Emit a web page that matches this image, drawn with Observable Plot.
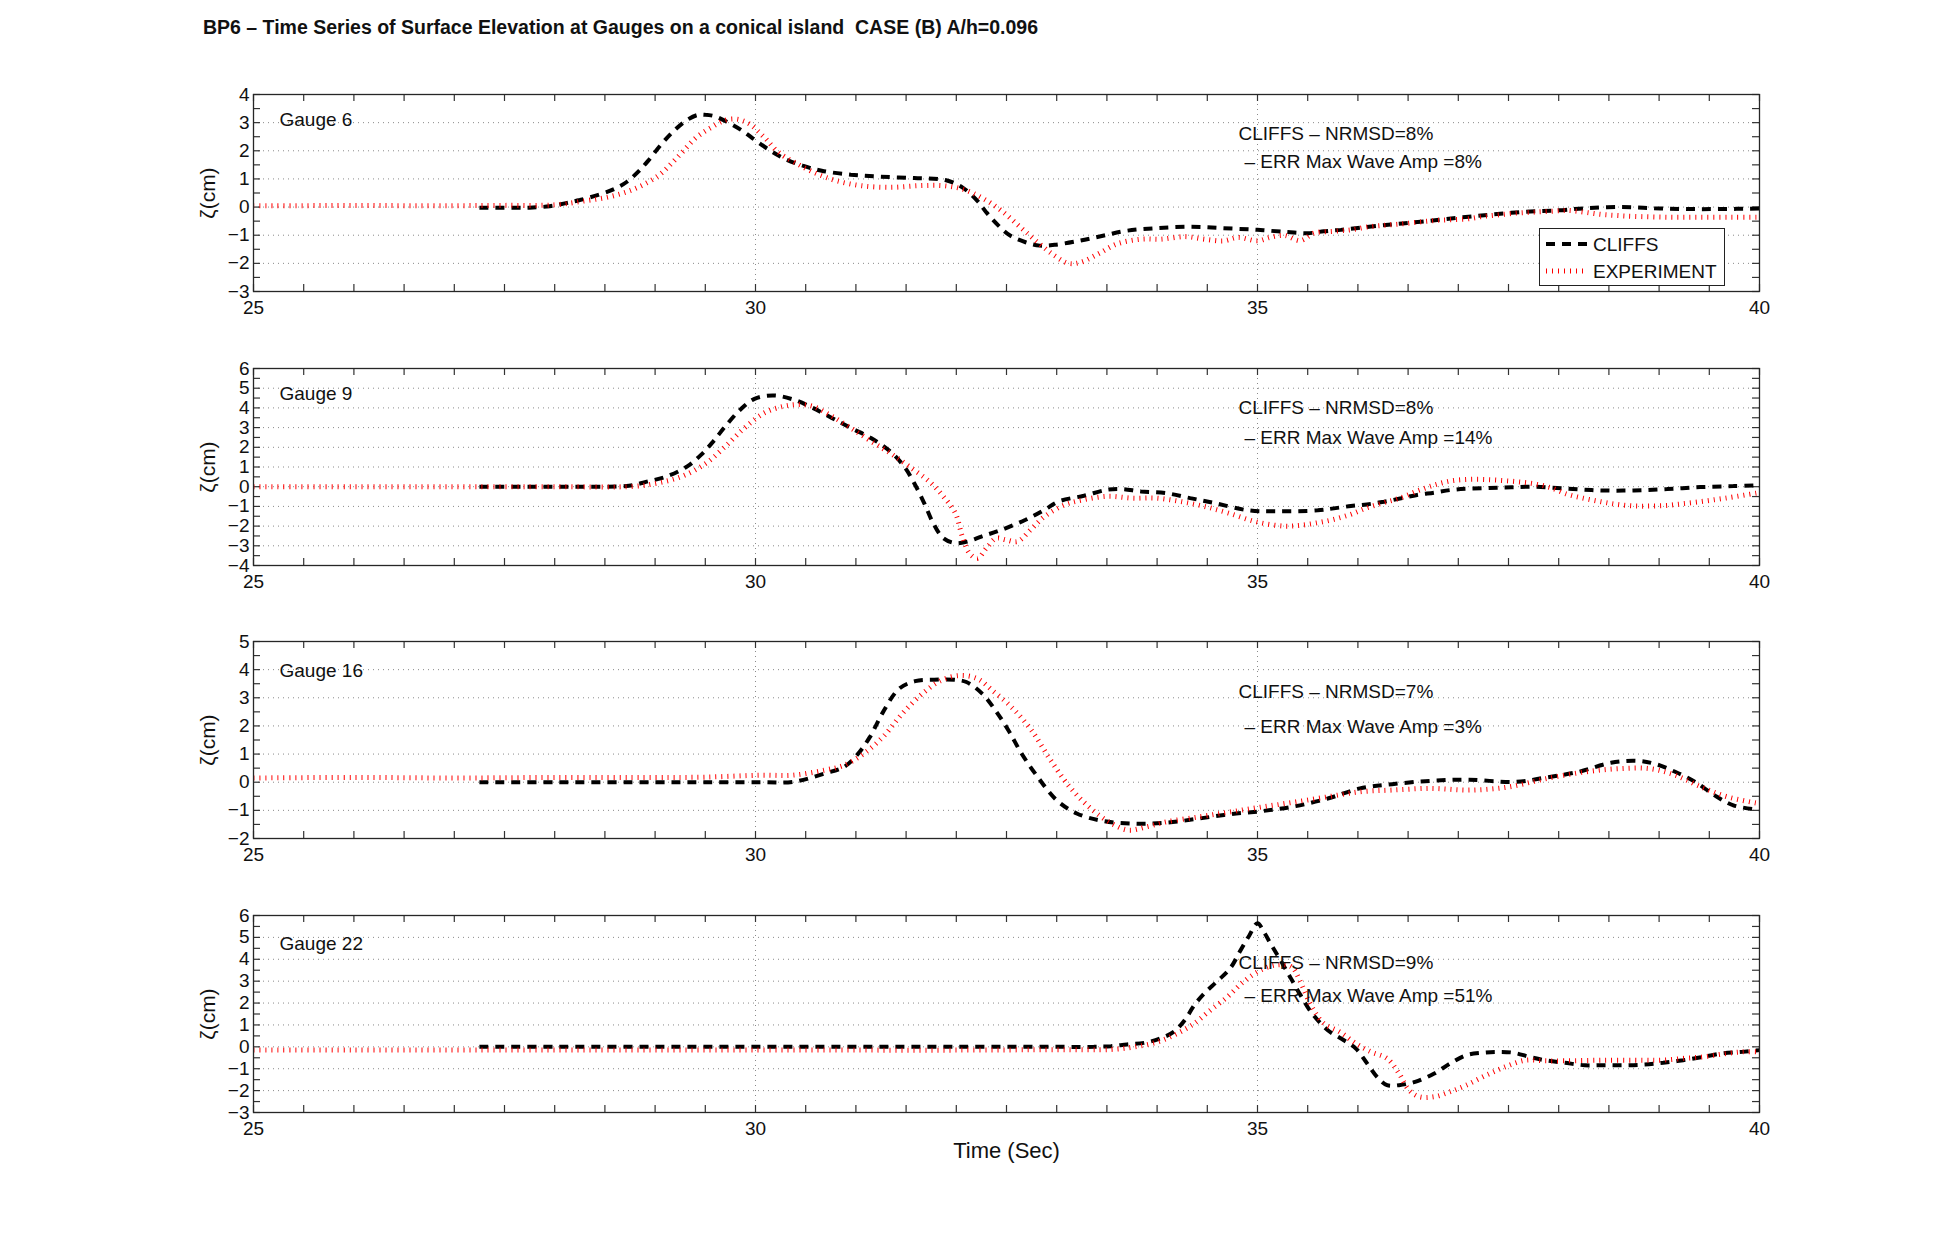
<!DOCTYPE html>
<html>
<head>
<meta charset="utf-8">
<script src="https://cdn.jsdelivr.net/npm/d3@7"></script>
<script src="https://cdn.jsdelivr.net/npm/@observablehq/plot@0.6"></script>
<style>
  html, body { margin: 0; padding: 0; background: #fff; }
  #page { position: relative; width: 1943px; height: 1249px; overflow: hidden; font-family: "Liberation Sans", Arial, Helvetica, sans-serif; color: #111; }
  #title { position: absolute; left: 203px; top: 16px; font-size: 19.5px; font-weight: bold; white-space: pre; }
  .panel { position: absolute; left: 0; }
  #legend { position: absolute; left: 1539px; top: 228px; width: 186px; height: 58px; box-sizing: border-box; border: 1px solid #222; background: #fff; }
</style>
</head>
<body>
<div id="page">
  <div id="title">BP6 – Time Series of Surface Elevation at Gauges on a conical island  CASE (B) A/h=0.096</div>
</div>
<script>
// ---------------- data ----------------
const gaugeNames = ["Gauge 6", "Gauge 9", "Gauge 16", "Gauge 22"];
const nrmsdText = ["CLIFFS – NRMSD=8%", "CLIFFS – NRMSD=8%", "CLIFFS – NRMSD=7%", "CLIFFS – NRMSD=9%"];
const errText = ["– ERR Max Wave Amp =8%", "– ERR Max Wave Amp =14%", "– ERR Max Wave Amp =3%", "– ERR Max Wave Amp =51%"];
const seriesNames = ["CLIFFS", "EXPERIMENT"];
const xTickLabels = [25, 30, 35, 40];
const yDomains = [[-3, 4], [-4, 6], [-2, 5], [-3, 6]];
const xLabel = "Time (Sec)";
const yLabel = "ζ(cm)";

// Gauge 6
const g6CliffsT = [27.25, 27.5, 27.75, 27.95, 28.1, 28.25, 28.45, 28.6, 28.72, 28.83, 28.93, 29.05, 29.17, 29.3, 29.42, 29.5, 29.6, 29.73, 29.87, 30.0, 30.15, 30.3, 30.47, 30.66, 30.95, 31.24, 31.58, 31.89, 32.06, 32.21, 32.3, 32.42, 32.54, 32.69, 32.83, 32.98, 33.22, 33.46, 33.7, 33.99, 34.33, 34.66, 35.0, 35.3, 35.5, 35.66, 35.83, 36.0, 36.33, 36.66, 37.0, 37.32, 37.65, 37.98, 38.28, 38.62, 38.95, 39.28, 39.61, 40.0];
const g6Cliffs = [-0.02, -0.02, -0.02, 0.03, 0.13, 0.25, 0.45, 0.65, 0.9, 1.25, 1.64, 2.18, 2.65, 3.05, 3.27, 3.28, 3.22, 3.0, 2.71, 2.37, 2.0, 1.7, 1.47, 1.29, 1.15, 1.08, 1.03, 0.96, 0.7, 0.22, -0.19, -0.66, -1.02, -1.25, -1.37, -1.34, -1.2, -1.02, -0.84, -0.75, -0.7, -0.75, -0.81, -0.89, -0.93, -0.86, -0.81, -0.74, -0.62, -0.51, -0.38, -0.27, -0.17, -0.12, -0.04, 0.0, -0.04, -0.07, -0.07, -0.05];
const g6ExpT = [25, 25.5, 26, 26.5, 27, 27.5, 28, 28.3, 28.55, 28.79, 29.03, 29.22, 29.41, 29.56, 29.7, 29.82, 29.94, 30.09, 30.23, 30.42, 30.62, 30.81, 31.05, 31.34, 31.63, 31.87, 32.06, 32.25, 32.45, 32.64, 32.83, 32.98, 33.12, 33.24, 33.41, 33.6, 33.84, 34.04, 34.28, 34.47, 34.66, 34.81, 35.0, 35.13, 35.27, 35.43, 35.56, 35.76, 35.93, 36.09, 36.26, 36.43, 36.59, 36.76, 36.92, 37.09, 37.25, 37.42, 37.59, 37.75, 37.92, 38.09, 38.25, 38.42, 38.58, 38.75, 39.08, 39.41, 39.74, 40];
const g6Exp = [0.05, 0.05, 0.06, 0.05, 0.05, 0.06, 0.08, 0.22, 0.37, 0.64, 1.11, 1.76, 2.47, 2.83, 3.09, 3.12, 2.95, 2.47, 1.94, 1.53, 1.17, 0.93, 0.76, 0.7, 0.76, 0.76, 0.64, 0.34, -0.13, -0.72, -1.31, -1.73, -2.0, -1.96, -1.67, -1.31, -1.14, -1.14, -1.05, -1.14, -1.2, -1.08, -1.2, -1.07, -1.01, -1.19, -0.93, -0.86, -0.81, -0.71, -0.65, -0.6, -0.54, -0.48, -0.45, -0.42, -0.33, -0.27, -0.21, -0.18, -0.15, -0.12, -0.18, -0.26, -0.3, -0.33, -0.36, -0.36, -0.36, -0.36];

// Gauge 9
const g9CliffsT = [27.25, 27.75, 28.25, 28.74, 28.93, 29.12, 29.32, 29.46, 29.58, 29.7, 29.85, 29.99, 30.18, 30.38, 30.57, 30.76, 30.95, 31.15, 31.34, 31.48, 31.58, 31.68, 31.77, 31.87, 31.99, 32.11, 32.25, 32.45, 32.69, 32.88, 33.02, 33.27, 33.51, 33.65, 33.84, 34.08, 34.33, 34.57, 34.91, 35.19, 35.6, 35.76, 35.93, 36.09, 36.26, 36.43, 36.59, 36.76, 36.92, 37.09, 37.42, 37.75, 38.09, 38.42, 38.75, 39.08, 39.41, 39.74, 40.0];
const g9Cliffs = [0, 0, 0, 0.05, 0.27, 0.53, 1.03, 1.63, 2.3, 3.07, 3.92, 4.46, 4.63, 4.42, 4.0, 3.49, 2.98, 2.47, 1.8, 1.03, 0.19, -0.83, -1.85, -2.61, -2.86, -2.78, -2.53, -2.19, -1.68, -1.17, -0.75, -0.46, -0.15, -0.12, -0.24, -0.32, -0.58, -0.83, -1.2, -1.25, -1.2, -1.1, -0.98, -0.9, -0.76, -0.59, -0.42, -0.3, -0.17, -0.1, -0.05, 0.0, -0.1, -0.19, -0.19, -0.12, -0.02, 0.03, 0.07];
const g9ExpT = [25, 26, 27, 28, 28.79, 29.03, 29.27, 29.51, 29.7, 29.89, 30.09, 30.28, 30.42, 30.57, 30.76, 30.95, 31.15, 31.34, 31.53, 31.73, 31.87, 31.99, 32.06, 32.13, 32.21, 32.3, 32.4, 32.49, 32.61, 32.74, 32.88, 33.08, 33.27, 33.51, 33.75, 33.99, 34.23, 34.47, 34.71, 35.0, 35.27, 35.43, 35.6, 35.76, 35.93, 36.09, 36.26, 36.43, 36.59, 36.76, 36.92, 37.09, 37.25, 37.42, 37.59, 37.75, 37.92, 38.09, 38.25, 38.42, 38.58, 38.75, 38.91, 39.08, 39.24, 39.41, 39.58, 39.74, 40.0];
const g9Exp = [0, 0, 0, 0, 0.02, 0.19, 0.53, 1.2, 2.05, 2.98, 3.75, 4.08, 4.17, 4.08, 3.58, 2.98, 2.31, 1.71, 1.03, 0.27, -0.49, -1.34, -2.53, -3.37, -3.63, -3.12, -2.61, -2.69, -2.78, -2.19, -1.51, -0.92, -0.66, -0.49, -0.58, -0.58, -0.75, -1.0, -1.34, -1.8, -2.0, -1.96, -1.83, -1.66, -1.4, -1.07, -0.81, -0.56, -0.22, 0.08, 0.29, 0.37, 0.37, 0.32, 0.25, 0.15, -0.05, -0.39, -0.59, -0.76, -0.9, -0.98, -0.98, -0.95, -0.86, -0.76, -0.64, -0.52, -0.3];

// Gauge 16
const g16CliffsT = [27.25, 28, 29, 29.5, 30.05, 30.37, 30.69, 30.88, 31.01, 31.14, 31.27, 31.43, 31.59, 31.78, 31.98, 32.1, 32.26, 32.39, 32.52, 32.65, 32.81, 33.0, 33.2, 33.45, 33.77, 34.09, 34.42, 34.74, 35.06, 35.38, 35.7, 36.02, 36.34, 36.73, 37.11, 37.56, 37.88, 38.2, 38.52, 38.78, 38.97, 39.16, 39.36, 39.55, 39.74, 40.0];
const g16Cliffs = [0, 0, 0, 0, 0, 0.01, 0.31, 0.54, 0.96, 1.61, 2.49, 3.32, 3.59, 3.64, 3.64, 3.56, 3.14, 2.55, 1.84, 1.02, 0.19, -0.64, -1.11, -1.37, -1.47, -1.44, -1.29, -1.13, -1.02, -0.85, -0.58, -0.22, -0.07, 0.05, 0.09, 0.01, 0.17, 0.37, 0.69, 0.76, 0.64, 0.37, 0.01, -0.46, -0.82, -0.99];
const g16ExpT = [25, 26, 27, 28, 29, 29.5, 30.05, 30.37, 30.69, 30.88, 31.08, 31.27, 31.46, 31.66, 31.85, 32.04, 32.21, 32.36, 32.55, 32.75, 32.94, 33.13, 33.32, 33.52, 33.71, 33.9, 34.09, 34.42, 34.74, 35.06, 35.38, 35.7, 36.02, 36.34, 36.73, 37.11, 37.5, 37.88, 38.27, 38.59, 38.91, 39.16, 39.42, 39.68, 40.0];
const g16Exp = [0.15, 0.17, 0.15, 0.17, 0.17, 0.18, 0.25, 0.25, 0.43, 0.6, 1.02, 1.61, 2.43, 3.14, 3.62, 3.79, 3.68, 3.26, 2.67, 1.84, 0.78, -0.17, -0.87, -1.41, -1.7, -1.58, -1.41, -1.23, -1.05, -0.87, -0.7, -0.52, -0.34, -0.28, -0.22, -0.28, -0.17, 0.13, 0.37, 0.48, 0.48, 0.25, -0.17, -0.52, -0.76];

// Gauge 22
const g22CliffsT = [27.25, 28, 29, 30, 31, 32, 33, 33.37, 33.54, 33.7, 33.87, 34.03, 34.17, 34.28, 34.37, 34.47, 34.6, 34.73, 34.83, 34.92, 35.0, 35.07, 35.13, 35.23, 35.33, 35.43, 35.54, 35.7, 35.86, 35.98, 36.08, 36.19, 36.29, 36.41, 36.57, 36.76, 36.92, 37.08, 37.24, 37.39, 37.55, 37.71, 37.86, 38.06, 38.26, 38.45, 38.65, 38.85, 39.04, 39.24, 39.44, 39.63, 39.83, 40.0];
const g22Cliffs = [0, 0, 0, 0, 0, 0, 0, 0, 0.03, 0.11, 0.18, 0.38, 0.7, 1.25, 1.9, 2.44, 3.0, 3.6, 4.4, 5.1, 5.65, 5.2, 4.72, 3.95, 3.15, 2.35, 1.55, 0.76, 0.3, -0.08, -0.68, -1.37, -1.75, -1.75, -1.6, -1.22, -0.76, -0.38, -0.27, -0.23, -0.27, -0.46, -0.61, -0.73, -0.84, -0.84, -0.84, -0.81, -0.73, -0.61, -0.46, -0.3, -0.23, -0.15];
const g22ExpT = [25, 26, 27, 28, 29, 30, 31, 32, 33, 33.54, 33.78, 34.01, 34.2, 34.37, 34.53, 34.7, 34.86, 35.03, 35.2, 35.34, 35.42, 35.54, 35.66, 35.82, 35.98, 36.13, 36.29, 36.41, 36.51, 36.61, 36.76, 36.92, 37.08, 37.28, 37.47, 37.67, 37.86, 38.06, 38.45, 38.85, 39.04, 39.24, 39.44, 39.63, 39.83, 40.0];
const g22Exp = [-0.15, -0.15, -0.15, -0.15, -0.15, -0.15, -0.15, -0.15, -0.13, -0.12, 0.0, 0.23, 0.61, 1.07, 1.67, 2.28, 2.97, 3.5, 3.75, 3.65, 3.04, 1.83, 1.07, 0.68, 0.15, -0.23, -0.53, -1.22, -1.98, -2.28, -2.28, -2.05, -1.75, -1.29, -0.91, -0.61, -0.64, -0.64, -0.61, -0.61, -0.61, -0.53, -0.46, -0.33, -0.23, -0.23];

const cliffsT = [g6CliffsT, g9CliffsT, g16CliffsT, g22CliffsT];
const cliffsV = [g6Cliffs, g9Cliffs, g16Cliffs, g22Cliffs];
const expT = [g6ExpT, g9ExpT, g16ExpT, g22ExpT];
const expV = [g6Exp, g9Exp, g16Exp, g22Exp];

// ---------------- layout / style ----------------
const FONT = '"Liberation Sans", Arial, Helvetica, sans-serif';
const panelTops = [94, 367.5, 641, 915];
const innerH = 197, mL = 253, mR = 184, mT = 20, mB = 60;
const innerW = 1943 - mL - mR;
const tickLen = 7;
const gaugeDy = [25, 25, 29, 28];
const note1Dy = [39, 39, 50, 47];
const note2Dy = [67, 69, 85, 80];
const CLIFFS_STYLE = { stroke: "#000", strokeWidth: 4, strokeDasharray: "9,7", strokeLinecap: "butt", strokeLinejoin: "miter" };
const EXP_STYLE = { stroke: "#ff0000", strokeWidth: 5, strokeDasharray: "1,5", strokeLinecap: "butt", strokeLinejoin: "miter" };
const minus = d => (d < 0 ? "\u2212" + Math.abs(d) : String(d));

const xMinor = d3.range(25, 40.001, 0.5);
const page = document.getElementById("page");

for (let i = 0; i < 4; i++) {
  const cl = cliffsT[i].map((t, j) => ({ t, v: cliffsV[i][j] }));
  const ex = expT[i].map((t, j) => ({ t, v: expV[i][j] }));
  const [y0, y1] = yDomains[i];
  const yMinor = d3.range(y0, y1 + 0.001, 0.5);
  const yInts = d3.range(y0, y1 + 0.001, 1);
  const marks = [
    Plot.gridX([30, 35], { stroke: "#8a8a8a", strokeOpacity: 1, strokeWidth: 1, strokeDasharray: "1,4" }),
    Plot.gridY(yInts.filter(d => d !== y0 && d !== y1), { stroke: "#8a8a8a", strokeOpacity: 1, strokeWidth: 1, strokeDasharray: "1,4" }),
    Plot.ruleX(xMinor, { x: d => d, insetBottom: innerH - tickLen, stroke: "#333", strokeWidth: 1.2 }),
    Plot.ruleX(xMinor, { x: d => d, insetTop: innerH - tickLen, stroke: "#333", strokeWidth: 1.2 }),
    Plot.ruleY(yMinor, { y: d => d, insetRight: innerW - tickLen, stroke: "#333", strokeWidth: 1.2 }),
    Plot.ruleY(yMinor, { y: d => d, insetLeft: innerW - tickLen, stroke: "#333", strokeWidth: 1.2 }),
    Plot.axisX(xTickLabels, { tickSize: 0, tickPadding: 9, fontSize: 19, label: null }),
    Plot.axisY(yInts, { tickSize: 0, tickPadding: 4, fontSize: 19, label: null, tickFormat: minus }),
    Plot.line(cl, { x: "t", y: "v", curve: "catmull-rom", ...CLIFFS_STYLE }),
    Plot.line(ex, { x: "t", y: "v", curve: "catmull-rom", ...EXP_STYLE }),
    Plot.frame({ stroke: "#262626", strokeWidth: 1.3 }),
    Plot.text([gaugeNames[i]], { frameAnchor: "top-left", dx: 26, dy: gaugeDy[i], lineAnchor: "middle", textAnchor: "start", fontSize: 19, fill: "#111" }),
    Plot.text([nrmsdText[i]], { frameAnchor: "top-left", dx: 985, dy: note1Dy[i], lineAnchor: "middle", textAnchor: "start", fontSize: 19, fill: "#111" }),
    Plot.text([errText[i]], { frameAnchor: "top-left", dx: 991, dy: note2Dy[i], lineAnchor: "middle", textAnchor: "start", fontSize: 19, fill: "#111" }),
    Plot.text([yLabel], { frameAnchor: "left", dx: -45, rotate: -90, lineAnchor: "middle", textAnchor: "middle", fontSize: 21, fill: "#111" })
  ];
  if (i === 3) {
    marks.push(Plot.text([xLabel], { frameAnchor: "bottom", dy: 38, lineAnchor: "middle", textAnchor: "middle", fontSize: 22, fill: "#111" }));
  }
  const svg = Plot.plot({
    width: 1943,
    height: innerH + mT + mB,
    marginLeft: mL, marginRight: mR, marginTop: mT, marginBottom: mB,
    x: { domain: [25, 40], label: null },
    y: { domain: [y0, y1], label: null },
    style: { fontFamily: FONT, fontSize: "19px", color: "#111", background: "transparent", overflow: "visible" },
    marks
  });
  svg.classList.add("panel");
  svg.style.top = (panelTops[i] - mT) + "px";
  page.appendChild(svg);
}

// legend (panel 1)
const legend = document.createElement("div");
legend.id = "legend";
const rowY = [16, 43];
const styles = [CLIFFS_STYLE, EXP_STYLE];
let s = `<svg width="186" height="58" style="position:absolute;left:-1px;top:-1px;overflow:visible">`;
seriesNames.forEach((name, k) => {
  const st = styles[k];
  s += `<line x1="7" x2="49" y1="${rowY[k]}" y2="${rowY[k]}" stroke="${st.stroke}" stroke-width="${st.strokeWidth}" stroke-dasharray="${st.strokeDasharray}" stroke-linecap="butt"/>`;
  s += `<text x="54" y="${rowY[k]}" dy="0.35em" font-family='${FONT}' font-size="19" fill="#111">${name}</text>`;
});
s += `</svg>`;
legend.innerHTML = s;
page.appendChild(legend);
</script>
</body>
</html>
